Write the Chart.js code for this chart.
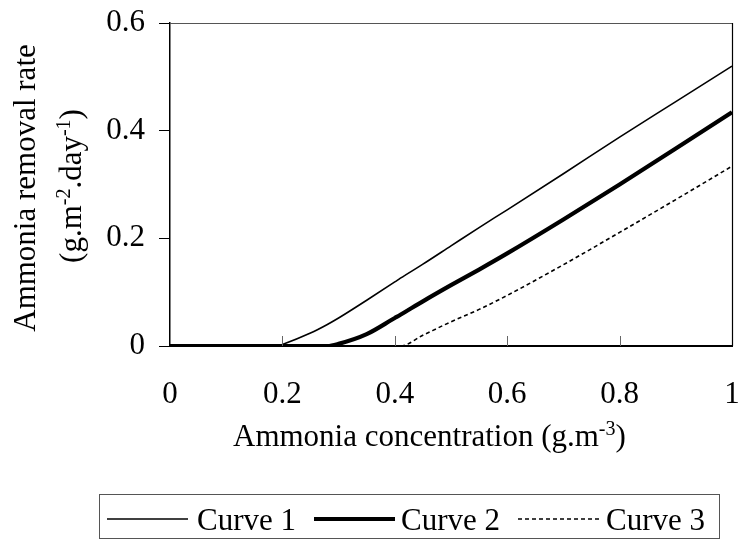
<!DOCTYPE html>
<html>
<head>
<meta charset="utf-8">
<script src="https://cdn.jsdelivr.net/npm/chart.js@4/dist/chart.umd.min.js"></script>
<style>
  body { margin: 0; background: #fff; }
  canvas { display: block; }
</style>
</head>
<body>
<canvas id="chart" width="738" height="542"></canvas>
<script>
// Données
const concentrations = [0, 0.19, 0.2, 0.25, 0.28, 0.3, 0.35, 0.4, 0.41, 0.45, 0.5, 0.55, 0.6, 0.7, 0.8, 0.9, 1];
const curve1 = [0, 0, 0.003, 0.024, 0.04, 0.052, 0.085, 0.119, 0.126, 0.152, 0.186, 0.22, 0.253, 0.32, 0.388, 0.454, 0.52];
const curve2 = [0, 0, 0, 0, 0, 0.004, 0.022, 0.052, 0.058, 0.083, 0.113, 0.142, 0.172, 0.235, 0.3, 0.367, 0.434];
const curve3 = [0, 0, 0, 0, 0, 0, 0, 0, 0, 0.02, 0.045, 0.068, 0.094, 0.151, 0.211, 0.272, 0.334];
const seriesNames = ['Curve 1', 'Curve 2', 'Curve 3'];
const xTicks = [0, 0.2, 0.4, 0.6, 0.8, 1];
const yTicks = [0, 0.2, 0.4, 0.6];

const FONT = '"Liberation Serif", "Times New Roman", serif';
const SIZE = 31;
const SUP = 20;

function toPoints(values) {
    return concentrations.map((x, i) => ({ x: x, y: values[i] }));
}

// Texte avec exposants : parts = [[texte, estExposant], ...]
function richWidth(ctx, parts) {
    let w = 0;
    parts.forEach(([t, sup]) => {
        ctx.font = (sup ? SUP : SIZE) + 'px ' + FONT;
        w += ctx.measureText(t).width;
    });
    return w;
}

function drawRich(ctx, parts, x, y) {
    let cx = x;
    ctx.textAlign = 'left';
    ctx.textBaseline = 'alphabetic';
    parts.forEach(([t, sup]) => {
        ctx.font = (sup ? SUP : SIZE) + 'px ' + FONT;
        ctx.fillText(t, cx, sup ? y - 11 : y);
        cx += ctx.measureText(t).width;
    });
}

// On neutralise le rembourrage automatique des étiquettes pour garder la zone du graphique fixe
function noPadding(scale) {
    scale.paddingLeft = 0;
    scale.paddingRight = 0;
    scale.paddingTop = 0;
    scale.paddingBottom = 0;
}

const decorations = {
    id: 'decorations',
    afterDraw(chart) {
        const ctx = chart.ctx;
        const area = chart.chartArea;
        const xs = chart.scales.x;
        ctx.save();
        ctx.fillStyle = '#000';

        // Cadre haut et droit
        ctx.strokeStyle = '#555';
        ctx.lineWidth = 1.2;
        ctx.beginPath();
        ctx.moveTo(area.left, area.top + 0.5);
        ctx.lineTo(area.right, area.top + 0.5);
        ctx.stroke();
        ctx.strokeStyle = '#000';
        ctx.beginPath();
        ctx.moveTo(area.right + 0.5, area.top);
        ctx.lineTo(area.right + 0.5, area.bottom);
        ctx.stroke();

        // Graduations intérieures de l'axe X
        ctx.strokeStyle = '#666';
        ctx.lineWidth = 1;
        xTicks.slice(1, -1).forEach(v => {
            const px = Math.round(xs.getPixelForValue(v)) + 0.5;
            ctx.beginPath();
            ctx.moveTo(px, area.bottom);
            ctx.lineTo(px, area.bottom - 10);
            ctx.stroke();
        });

        // Titre de l'axe X
        ctx.fillStyle = '#000';
        drawRich(ctx, [['Ammonia concentration (g.m', false], ['-3', true], [')', false]], 233, 446);

        // Titre de l'axe Y (deux lignes, texte tourné)
        const yLines = [
            { parts: [['Ammonia removal rate', false]], x: 35, y: 188 },
            { parts: [['(g.m', false], ['-2', true], ['.day', false], ['-1', true], [')', false]], x: 81, y: 186 }
        ];
        yLines.forEach(line => {
            ctx.save();
            ctx.translate(line.x, line.y);
            ctx.rotate(-Math.PI / 2);
            const w = richWidth(ctx, line.parts);
            drawRich(ctx, line.parts, -w / 2, 0);
            ctx.restore();
        });

        // Légende encadrée
        ctx.strokeStyle = '#555';
        ctx.lineWidth = 1;
        ctx.strokeRect(99.5, 494.5, 620, 44);
        const legendItems = [
            { x0: 107, x1: 188, tx: 197 },
            { x0: 314, x1: 395, tx: 401 },
            { x0: 518, x1: 602, tx: 606 }
        ];
        chart.data.datasets.forEach((ds, i) => {
            const it = legendItems[i];
            ctx.strokeStyle = '#000';
            ctx.lineWidth = ds.borderWidth;
            ctx.setLineDash(ds.borderDash || []);
            ctx.beginPath();
            ctx.moveTo(it.x0, 519);
            ctx.lineTo(it.x1, 519);
            ctx.stroke();
            ctx.setLineDash([]);
            ctx.font = SIZE + 'px ' + FONT;
            ctx.textAlign = 'left';
            ctx.textBaseline = 'alphabetic';
            ctx.fillText(seriesNames[i], it.tx, 530);
        });
        ctx.restore();
    }
};

new Chart(document.getElementById('chart'), {
    type: 'line',
    data: {
        datasets: [
            { label: seriesNames[0], data: toPoints(curve1), borderColor: '#000', borderWidth: 1.6 },
            { label: seriesNames[1], data: toPoints(curve2), borderColor: '#000', borderWidth: 4.2 },
            { label: seriesNames[2], data: toPoints(curve3), borderColor: '#000', borderWidth: 1.6, borderDash: [4, 3] }
        ]
    },
    options: {
        responsive: false,
        animation: false,
        devicePixelRatio: 1,
        layout: { padding: { top: 23, right: 6, left: 0, bottom: 0 } },
        elements: {
            point: { radius: 0 },
            line: { cubicInterpolationMode: 'monotone', fill: false }
        },
        plugins: {
            legend: { display: false },
            tooltip: { enabled: false }
        },
        scales: {
            x: {
                type: 'linear',
                min: 0,
                max: 1,
                afterBuildTicks: scale => { scale.ticks = xTicks.map(v => ({ value: v })); },
                afterFit: scale => { scale.height = 196; noPadding(scale); },
                grid: { display: false, drawTicks: false },
                border: { display: true, color: '#000', width: 2 },
                ticks: {
                    padding: 30,
                    color: '#000',
                    maxRotation: 0,
                    font: { family: FONT, size: SIZE },
                    callback: v => String(parseFloat(v.toFixed(1)))
                }
            },
            y: {
                min: 0,
                max: 0.6,
                afterBuildTicks: scale => { scale.ticks = yTicks.map(v => ({ value: v })); },
                afterFit: scale => { scale.width = 170; noPadding(scale); },
                grid: { drawOnChartArea: false, drawTicks: true, tickLength: 11, color: '#000', lineWidth: 1 },
                border: { display: true, color: '#000', width: 1.5 },
                ticks: {
                    padding: 14,
                    color: '#000',
                    font: { family: FONT, size: SIZE },
                    callback: v => String(parseFloat(v.toFixed(1)))
                }
            }
        }
    },
    plugins: [decorations]
});
</script>
</body>
</html>
